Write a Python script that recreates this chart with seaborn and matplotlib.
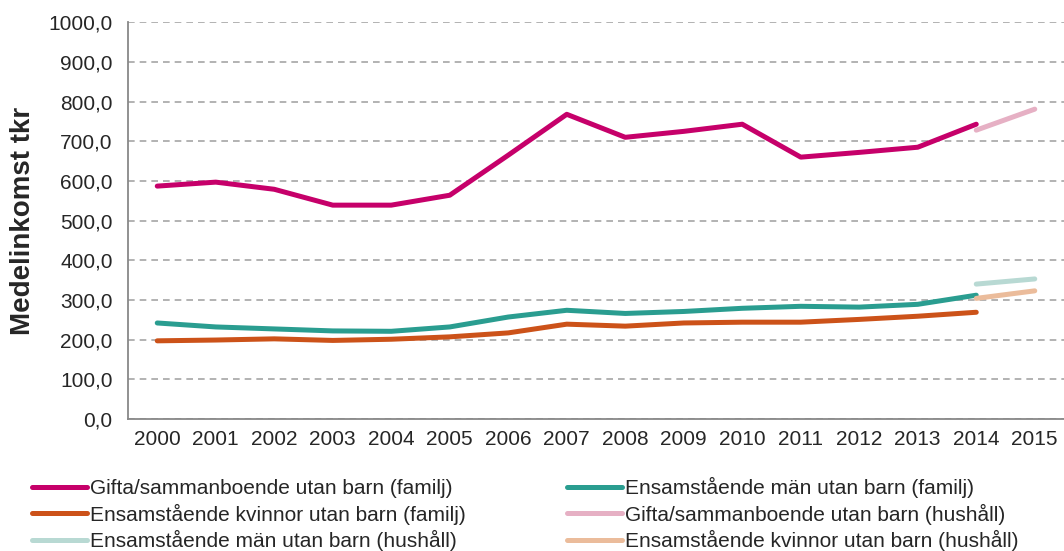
import matplotlib
matplotlib.use("Agg")
import matplotlib.pyplot as plt
import matplotlib.ticker as mticker
import seaborn as sns
import pandas as pd

years = list(range(2000, 2016))

gifta_familj = [587, 597, 579, 539, 539, 564, 665, 768, 710, 725, 743, 660, 672, 685, 743]
man_familj = [242, 232, 227, 222, 221, 232, 257, 274, 266, 271, 279, 284, 282, 289, 312]
kvinnor_familj = [197, 199, 202, 198, 201, 207, 217, 239, 234, 242, 244, 244, 251, 259, 269]
gifta_hushall = [728, 781]
man_hushall = [340, 353]
kvinnor_hushall = [304, 323]

series = [
    ("Gifta/sammanboende utan barn (familj)", years[:15], gifta_familj, "#C6006A"),
    ("Ensamstående män utan barn (familj)", years[:15], man_familj, "#2A9D90"),
    ("Ensamstående kvinnor utan barn (familj)", years[:15], kvinnor_familj, "#CC5219"),
    ("Gifta/sammanboende utan barn (hushåll)", years[14:], gifta_hushall, "#E6B0C4"),
    ("Ensamstående män utan barn (hushåll)", years[14:], man_hushall, "#B8D9D3"),
    ("Ensamstående kvinnor utan barn (hushåll)", years[14:], kvinnor_hushall, "#EBBC9B"),
]

sns.set_style("white")
plt.rcParams["font.family"] = ["Liberation Sans", "DejaVu Sans"]

fig = plt.figure(figsize=(10.64, 5.51), dpi=100)
ax = fig.add_axes([0.1203, 0.2396, 0.8797, 0.72])

for name, xs, ys, col in series:
    df = pd.DataFrame({"year": xs, "value": ys})
    sns.lineplot(data=df, x="year", y="value", ax=ax, color=col, linewidth=3.6,
                 label=name, solid_capstyle="round")

ax.set_xlim(1999.5, 2015.5)
ax.set_ylim(0, 1000)
ax.set_yticks(range(0, 1001, 100))
ax.yaxis.set_major_formatter(mticker.FuncFormatter(lambda v, p: f"{v:.1f}".replace(".", ",")))
ax.set_xticks(years)
ax.set_xticklabels([str(y) for y in years])
ax.set_xticks([y + 0.5 for y in years[:-1]], minor=True)
ax.tick_params(axis="x", which="major", length=0, pad=8, labelsize=15)
ax.tick_params(axis="x", which="minor", length=5, color="#888888", width=1.3)
ax.tick_params(axis="y", length=5, color="#888888", width=1.3, labelsize=15, pad=6)

ax.grid(axis="y", linestyle=(0, (4, 3)), color="#A6A6A6", linewidth=1.2)
ax.set_axisbelow(True)
for s in ["top", "right"]:
    ax.spines[s].set_visible(False)
for s in ["left", "bottom"]:
    ax.spines[s].set_color("#888888")
    ax.spines[s].set_linewidth(1.3)

ax.set_xlabel("")
ax.set_ylabel("Medelinkomst tkr", fontsize=20, fontweight="bold", labelpad=9)

handles, labels = ax.get_legend_handles_labels()
order = [0, 2, 4, 1, 3, 5]
ax.legend([handles[i] for i in order], [labels[i] for i in order],
          loc="upper left", bbox_to_anchor=(-0.1026, -0.146), ncol=2, frameon=False,
          fontsize=15, handlelength=2.65, handletextpad=0.15, columnspacing=4.85,
          labelspacing=0.27, borderaxespad=0, borderpad=0)

fig.savefig("out.png", dpi=100)
